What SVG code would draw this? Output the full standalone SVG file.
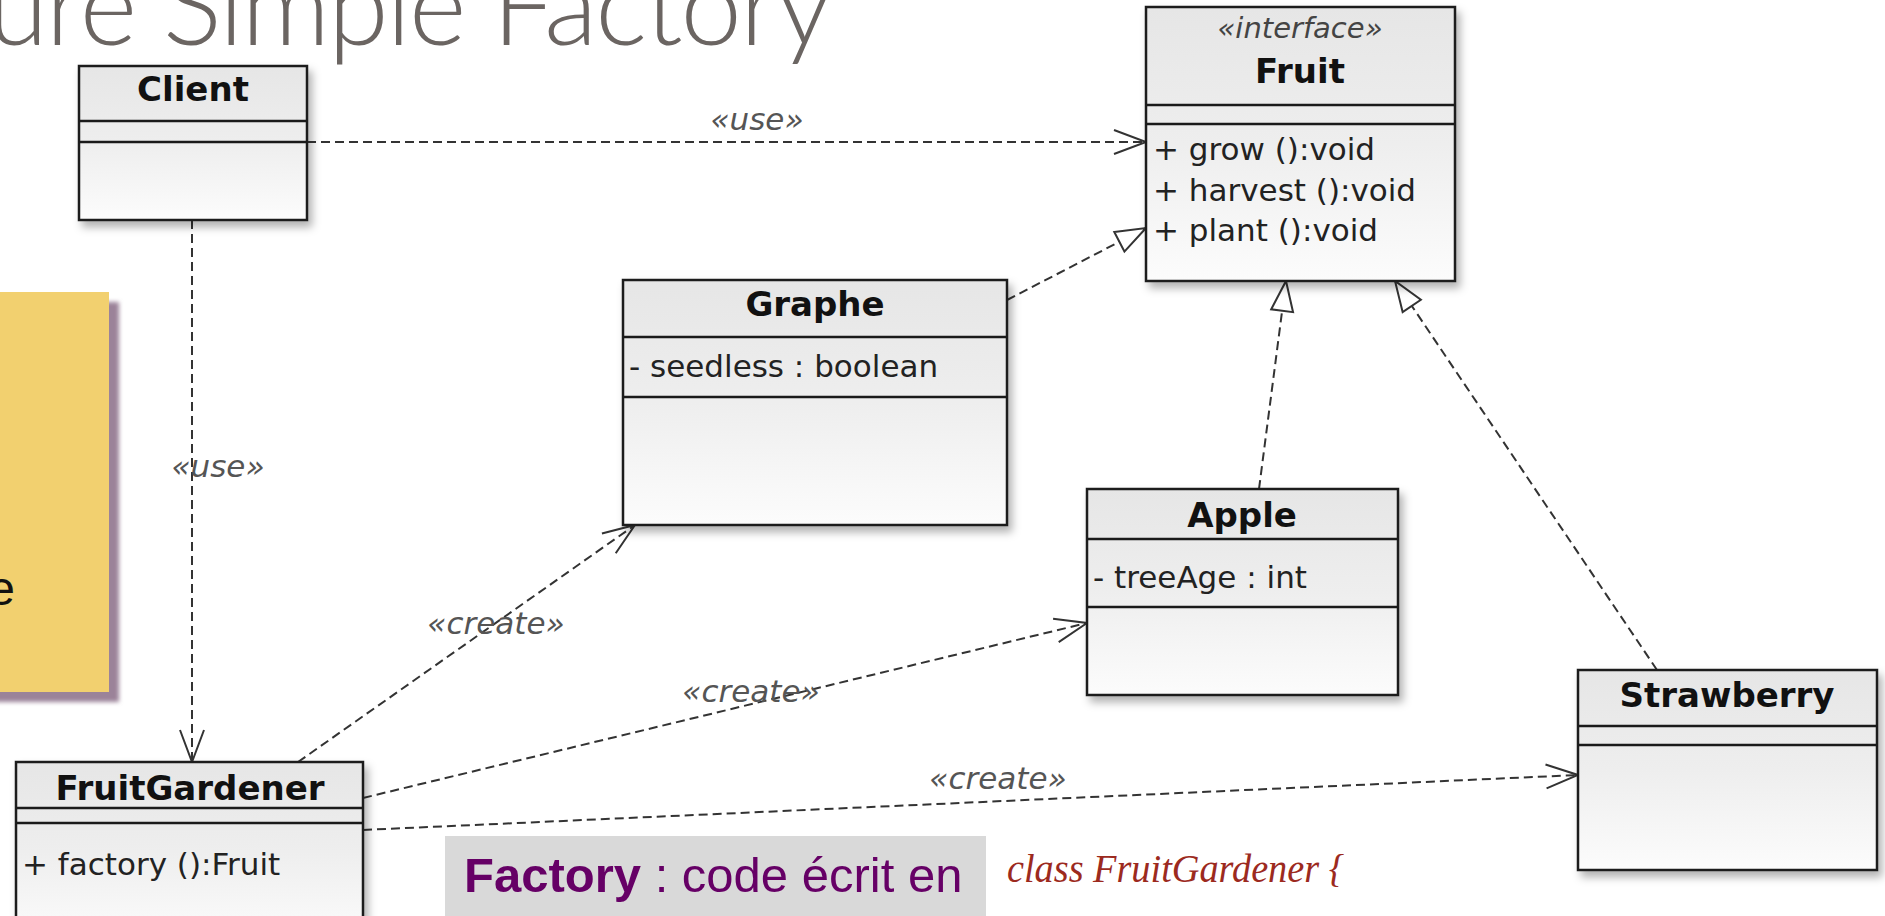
<svg xmlns="http://www.w3.org/2000/svg" width="1885" height="916" viewBox="0 0 1885 916">
<defs>
<linearGradient id="boxg" x1="0" y1="0" x2="0" y2="1">
<stop offset="0" stop-color="#e6e6e6"/>
<stop offset="0.5" stop-color="#eeeeee"/>
<stop offset="1" stop-color="#fcfcfc"/>
</linearGradient>
<filter id="sh" x="-10%" y="-10%" width="125%" height="125%">
<feDropShadow dx="4" dy="6" stdDeviation="4" flood-color="#000" flood-opacity="0.3"/>
</filter>
<filter id="nsh" x="-10%" y="-10%" width="130%" height="130%">
<feGaussianBlur stdDeviation="2"/>
</filter>
<marker id="open" markerUnits="userSpaceOnUse" markerWidth="40" markerHeight="40" viewBox="-34 -16 40 32" refX="0" refY="0" orient="auto">
<path d="M-32,-12 L0,0 L-32,12" fill="none" stroke="#333" stroke-width="2"/>
</marker>
<marker id="tri" markerUnits="userSpaceOnUse" markerWidth="40" markerHeight="40" viewBox="-34 -16 40 32" refX="0" refY="0" orient="auto">
<path d="M-30,-11 L0,0 L-30,11 Z" fill="#fff" stroke="#333" stroke-width="2"/>
</marker>
</defs>
<style>
.box{fill:url(#boxg);stroke:#1a1a1a;stroke-width:2.5;filter:url(#sh)}
.div{stroke:#1a1a1a;stroke-width:2.5}
.name{font-family:"DejaVu Sans",sans-serif;font-weight:bold;font-size:34px;fill:#111;text-anchor:middle}
.mem{font-family:"DejaVu Sans",sans-serif;font-size:31px;fill:#222}
.ster{font-family:"DejaVu Sans",sans-serif;font-style:italic;font-size:29px;fill:#444;text-anchor:middle}
.lbl{font-family:"DejaVu Sans",sans-serif;font-style:italic;font-size:31px;fill:#555;text-anchor:middle}
.dep{fill:none;stroke:#333;stroke-width:2;stroke-dasharray:9 5}
</style>
<rect width="1885" height="916" fill="#fff"/>
<g id="title">
<text x="830" y="45" font-family="Lato, 'Open Sans', sans-serif" font-weight="300" font-size="110" letter-spacing="-2" fill="#6b6562" text-anchor="end">ure Simple Factory</text>
</g>
<g id="note">
<rect x="-10" y="302" width="129" height="400" fill="#9b8399" filter="url(#nsh)"/>
<rect x="-10" y="292" width="119" height="400" fill="#f2d06f"/>
<text x="15" y="605" font-family="'Liberation Sans', Arial, sans-serif" font-size="48" fill="#111" text-anchor="end">e</text>
</g>
<g id="connectors">
<path class="dep" d="M307,142 L1146,142" marker-end="url(#open)"/>
<text class="lbl" x="757" y="130">«use»</text>
<path class="dep" d="M192,220 L192,762" marker-end="url(#open)"/>
<text class="lbl" x="218" y="477">«use»</text>
<path class="dep" d="M1007,300 L1146,228" marker-end="url(#tri)"/>
<path class="dep" d="M1259,489 L1286,281" marker-end="url(#tri)"/>
<path class="dep" d="M1657,670 L1395,281" marker-end="url(#tri)"/>
<path class="dep" d="M298,762 L635,525" marker-end="url(#open)"/>
<text class="lbl" x="496" y="634">«create»</text>
<path class="dep" d="M363,798 L1087,623" marker-end="url(#open)"/>
<text class="lbl" x="751" y="702">«create»</text>
<path class="dep" d="M363,830 L1578,775" marker-end="url(#open)"/>
<text class="lbl" x="998" y="789">«create»</text>
</g>
<g id="Client">
<rect class="box" x="79" y="66" width="228" height="154"/>
<line class="div" x1="79" y1="121" x2="307" y2="121"/>
<line class="div" x1="79" y1="142" x2="307" y2="142"/>
<text class="name" x="193" y="101">Client</text>
</g>
<g id="Fruit">
<rect class="box" x="1146" y="7" width="309" height="274"/>
<line class="div" x1="1146" y1="105" x2="1455" y2="105"/>
<line class="div" x1="1146" y1="124" x2="1455" y2="124"/>
<text class="ster" x="1300" y="38">«interface»</text>
<text class="name" x="1300" y="83">Fruit</text>
<text class="mem" x="1153" y="160">+ grow ():void</text>
<text class="mem" x="1153" y="201">+ harvest ():void</text>
<text class="mem" x="1153" y="241">+ plant ():void</text>
</g>
<g id="Graphe">
<rect class="box" x="623" y="280" width="384" height="245"/>
<line class="div" x1="623" y1="337" x2="1007" y2="337"/>
<line class="div" x1="623" y1="397" x2="1007" y2="397"/>
<text class="name" x="815" y="316">Graphe</text>
<text class="mem" x="629" y="377">- seedless : boolean</text>
</g>
<g id="Apple">
<rect class="box" x="1087" y="489" width="311" height="206"/>
<line class="div" x1="1087" y1="539" x2="1398" y2="539"/>
<line class="div" x1="1087" y1="607" x2="1398" y2="607"/>
<text class="name" x="1242" y="527">Apple</text>
<text class="mem" x="1093" y="588">- treeAge : int</text>
</g>
<g id="Strawberry">
<rect class="box" x="1578" y="670" width="299" height="200"/>
<line class="div" x1="1578" y1="726" x2="1877" y2="726"/>
<line class="div" x1="1578" y1="745" x2="1877" y2="745"/>
<text class="name" x="1727" y="707">Strawberry</text>
</g>
<g id="FruitGardener">
<rect class="box" x="16" y="762" width="347" height="180"/>
<line class="div" x1="16" y1="808" x2="363" y2="808"/>
<line class="div" x1="16" y1="823" x2="363" y2="823"/>
<text class="name" x="190" y="800">FruitGardener</text>
<text class="mem" x="22" y="875">+ factory ():Fruit</text>
</g>
<g id="factoryNote">
<rect x="445" y="836" width="541" height="90" fill="#d9d9d9"/>
<text x="464" y="892" font-family="'Liberation Sans', Arial, sans-serif" font-size="49" fill="#660066"><tspan font-weight="bold">Factory</tspan> : code écrit en</text>
</g>
<g id="code">
<text x="1007" y="882" font-family="'Liberation Serif', 'Times New Roman', serif" font-style="italic" font-size="40" textLength="337" lengthAdjust="spacingAndGlyphs" fill="#9c2a1e">class FruitGardener {</text>
</g>
</svg>
